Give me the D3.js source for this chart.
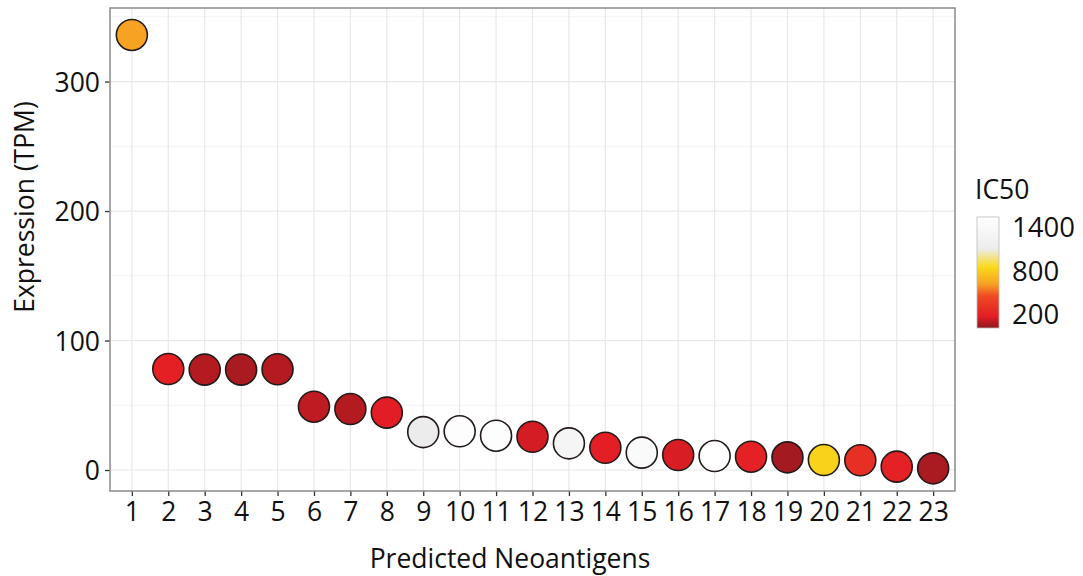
<!DOCTYPE html>
<html>
<head>
<meta charset="utf-8">
<script src="https://cdn.jsdelivr.net/npm/d3@7"></script>
<style>
  body { margin: 0; background: #fff; }
  text { font-family: "Open Sans", "Noto Sans", sans-serif; fill: #111; }
</style>
</head>
<body>
<div id="chart"></div>
<script>
// data
var antigens = d3.range(1, 24);
var expression = [336, 78, 77.5, 77.5, 77.8, 48.9, 47.1, 44.3, 29.3, 29.9, 26.5, 25.7,
                  20.6, 17.2, 13.4, 11.6, 10.8, 10.3, 9.8, 7.7, 7.5, 2.6, 1.3];
var ic50 = [620, 190, 80, 60, 80, 100, 80, 170, 1100, 1500, 1500, 140,
            1300, 180, 1420, 150, 1530, 200, 50, 820, 280, 200, 60];
var yTicks = [0, 100, 200, 300];
var legendTicks = [200, 800, 1400];
var icStops = [10, 170, 450, 620, 850, 1100, 1540];
var icColors = ["#8e1a1e", "#e31d25", "#ef4a24", "#f6a323", "#fad91b", "#ececec", "#ffffff"];

var width = 1083, height = 576;
var panel = {left: 110, right: 955, top: 8, bottom: 491};
var fontSize = "26.5px";

var svg = d3.select("#chart").append("svg")
    .attr("width", width)
    .attr("height", height);

// scales
var x = d3.scaleLinear().domain([0.4, 23.6]).range([panel.left, panel.right]);
var y = d3.scaleLinear().domain([-16.2, 356.8]).range([panel.bottom, panel.top]);
var color = d3.scaleLinear().domain(icStops).range(icColors).clamp(true);

// grid
var grid = svg.append("g");
grid.selectAll(".minor")
    .data([50, 150, 250, 350])
    .enter().append("line")
    .attr("x1", panel.left).attr("x2", panel.right)
    .attr("y1", d => y(d)).attr("y2", d => y(d))
    .attr("stroke", "#f3f3f3").attr("stroke-width", 1);
grid.selectAll(".majorY")
    .data(yTicks)
    .enter().append("line")
    .attr("x1", panel.left).attr("x2", panel.right)
    .attr("y1", d => y(d)).attr("y2", d => y(d))
    .attr("stroke", "#e8e8e8").attr("stroke-width", 1.2);
grid.selectAll(".majorX")
    .data(antigens)
    .enter().append("line")
    .attr("x1", d => x(d)).attr("x2", d => x(d))
    .attr("y1", panel.top).attr("y2", panel.bottom)
    .attr("stroke", "#e8e8e8").attr("stroke-width", 1.2);

// axes
var xAxis = svg.append("g")
    .attr("transform", "translate(0," + panel.bottom + ")")
    .call(d3.axisBottom(x).tickValues(antigens).tickSize(5).tickPadding(6));
var yAxis = svg.append("g")
    .attr("transform", "translate(" + panel.left + ",0)")
    .call(d3.axisLeft(y).tickValues(yTicks).tickSize(5).tickPadding(5));
[xAxis, yAxis].forEach(function (a) {
    a.select(".domain").remove();
    a.selectAll(".tick line").attr("stroke", "#333").attr("stroke-width", 1.3);
    a.selectAll("text").style("font-size", fontSize)
        .style("font-family", "'Open Sans', sans-serif").attr("fill", "#111");
});
yAxis.selectAll("text").attr("dy", "0.36em");

// panel border
svg.append("rect")
    .attr("x", panel.left).attr("y", panel.top)
    .attr("width", panel.right - panel.left).attr("height", panel.bottom - panel.top)
    .attr("fill", "none").attr("stroke", "#8a8a8a").attr("stroke-width", 1.5);

// points
svg.append("g").selectAll("circle")
    .data(antigens)
    .enter().append("circle")
    .attr("cx", d => x(d))
    .attr("cy", (d, i) => y(expression[i]))
    .attr("r", 15.5)
    .attr("fill", (d, i) => color(ic50[i]))
    .attr("stroke", "#231a1a")
    .attr("stroke-width", 1.6);

// axis titles
svg.append("text")
    .attr("x", 510).attr("y", 568)
    .attr("text-anchor", "middle")
    .style("font-size", fontSize)
    .text("Predicted Neoantigens");
svg.append("text")
    .attr("transform", "translate(34,207) rotate(-90)")
    .attr("text-anchor", "middle")
    .style("font-size", fontSize)
    .text("Expression (TPM)");

// legend
var lg = {x: 977, top: 217, bottom: 328, w: 22};
var ly = d3.scaleLinear().domain([icStops[0], icStops[icStops.length - 1]]).range([lg.bottom, lg.top]);
var defs = svg.append("defs");
var grad = defs.append("linearGradient")
    .attr("id", "icgrad").attr("x1", 0).attr("x2", 0).attr("y1", 1).attr("y2", 0);
grad.selectAll("stop")
    .data(icStops)
    .enter().append("stop")
    .attr("offset", d => (d - icStops[0]) / (icStops[icStops.length - 1] - icStops[0]))
    .attr("stop-color", (d, i) => icColors[i]);
svg.append("rect")
    .attr("x", lg.x).attr("y", lg.top)
    .attr("width", lg.w).attr("height", lg.bottom - lg.top)
    .attr("fill", "url(#icgrad)")
    .attr("stroke", "#bbb").attr("stroke-width", 0.8);
svg.append("text")
    .attr("x", 975).attr("y", 199)
    .style("font-size", fontSize)
    .text("IC50");
svg.append("g").selectAll("text")
    .data(legendTicks)
    .enter().append("text")
    .attr("x", 1012)
    .attr("y", d => ly(d))
    .attr("dy", "0.36em")
    .style("font-size", "27.5px")
    .text(d => d);
</script>
</body>
</html>
